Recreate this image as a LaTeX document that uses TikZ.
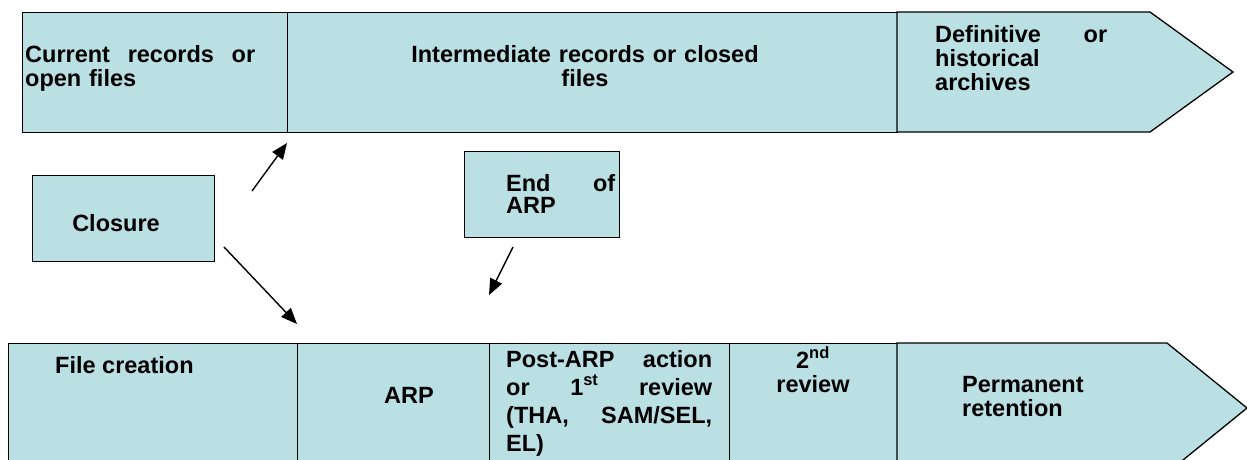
\documentclass[tikz,border=0pt]{standalone}
\usepackage{fontspec}
\setmainfont{Liberation Sans}
\usetikzlibrary{arrows.meta}

\definecolor{stagefill}{RGB}{187,224,228}

\begin{document}
\begin{tikzpicture}[x=1pt, y=-1pt,
        stage/.style={draw=black, fill=stagefill, line width=1.3pt,
                inner sep=0pt, anchor=north west},
        txt/.style={font=\bfseries\fontsize{23.5}{24}\selectfont,
                inner sep=0pt, anchor=base west, align=left},
        arr/.style={-{Triangle[length=16pt, width=13pt]}, line width=1.4pt}
    ]
    \useasboundingbox (0,0) rectangle (1247,459);
    \clip (0,0) rectangle (1247,459);

    % ---------------------------------------------------------------
    % TOP ROW
    % ---------------------------------------------------------------
    \node[stage, minimum width=265pt, minimum height=120pt] (current) at (22,12) {};
    \node[stage, minimum width=610pt, minimum height=120pt] (inter) at (287,12) {};
    \draw[stage] (897,12) -- (1150,12) -- (1233,72) -- (1150,132) -- (897,132) -- cycle;

    \node[txt, text width=230pt] (currenttxt) at (25,62)
        {Current\hfill records\hfill or\\open files};
    \node[txt, text width=400pt, align=center, anchor=base] (intertxt) at (585,62)
        {Intermediate records or closed\\files};
    \node[txt, text width=172pt] (histtxt) at (935,42)
        {Definitive\hfill or\\historical\\archives};

    % ---------------------------------------------------------------
    % MIDDLE
    % ---------------------------------------------------------------
    \node[stage, minimum width=182pt, minimum height=86pt] (closure) at (32,175) {};
    \node[txt, anchor=base] (closuretxt) at (116,231) {Closure};

    \node[stage, minimum width=155pt, minimum height=86pt] (endarp) at (464,151) {};
    \node[txt, text width=109pt] (endarptxt) at (506,191) {End\hfill of\\[-2pt]ARP};

    % ---------------------------------------------------------------
    % BOTTOM ROW
    % ---------------------------------------------------------------
    \node[stage, minimum width=289pt, minimum height=130pt] (filec) at (8,343) {};
    \node[stage, minimum width=192pt, minimum height=130pt] (arp) at (297,343) {};
    \node[stage, minimum width=240pt, minimum height=130pt] (post) at (489,343) {};
    \node[stage, minimum width=168pt, minimum height=130pt] (rev) at (729,343) {};
    \draw[stage] (897,343) -- (1167,343) -- (1247,408) -- (1167,473) -- (897,473) -- cycle;

    \node[txt] (filetxt) at (55,373) {File creation};
    \node[txt, anchor=base] (arptxt) at (409,403) {ARP};
    \node[txt, text width=206pt] (posttxt) at (506,367)
        {Post-ARP\hfill action\\[4pt]or\hfill 1\textsuperscript{st}\hfill review\\[4pt](THA,\hfill SAM/SEL,\\[4pt]EL)};
    \node[txt, text width=160pt, align=center, anchor=base] (revtxt) at (813,368)
        {2\textsuperscript{nd}\\review};
    \node[txt, text width=150pt] (permtxt) at (962,392) {Permanent\\retention};

    % Arrows
    \coordinate (upfrom) at (252,191);
    \coordinate (upto) at (287,143);
    \coordinate (downfrom) at (224,247);
    \coordinate (downto) at (297,324);
    \coordinate (endfrom) at (513,247);
    \coordinate (endto) at (489,295);
    \draw[arr] (upfrom) -- (upto);
    \draw[arr] (downfrom) -- (downto);
    \draw[arr] (endfrom) -- (endto);

\end{tikzpicture}
\end{document}
